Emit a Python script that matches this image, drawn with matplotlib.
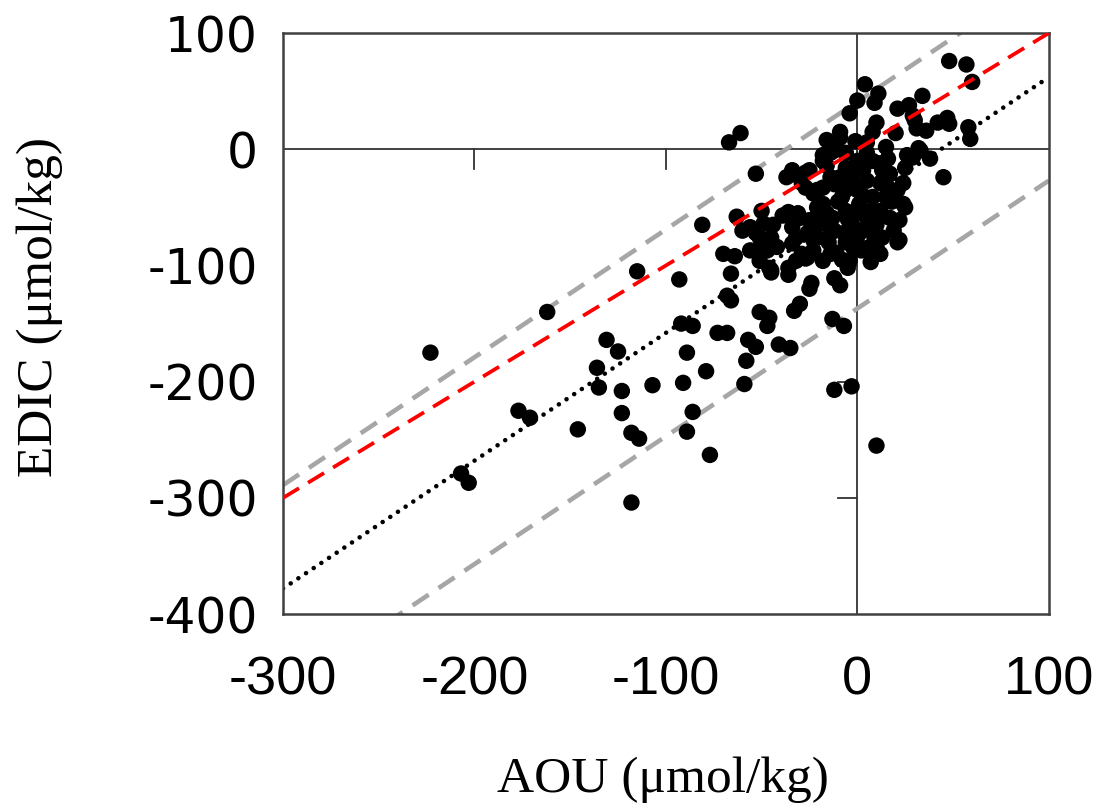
import numpy as np
import matplotlib
matplotlib.use("Agg")
import matplotlib.pyplot as plt

# AOU / EDIC samples (umol/kg)
aou = [-223, -207, -203, -177, -171, -162, -146, -136, -135, -131, -125, -123, -123, -118,
       -114, -118, -115, -107, -93, -92, -86, -89, -91, -79, -86, -89, -77, -73, -68, -68,
       -66, -66, -45, -36, -24, -25, -12, -9, -51, -47, -46, -30, -33, -57, -53, -41, -35,
       -13, -7, -58, -59, -12, -3, 10, -67, -61, -53, -81, -63, -50, -70, -64, -35, -27,
       -27, -35, -30, -60, -53, -44, -49, -52, -42, -45, -32, -26, -56, -47, -51, -46, -32,
       -29, -23, -18, -14, -21, -14, -25, -21, -16, -23, -18, -14, -18, -14, -11, -9, -16,
       -39, -31, -56, -49, -51, -45, -36, -5, -4, 12, 21, 24, 4, 11, 0, 9, -4, 10, 8, -9,
       -1, 34, 21, 27, 29, 20, 15, 31, 36, 42, 47, 48, 33, 38, 45, 29, 48, 57, 60, 58, 59,
       30, 32, -18, -12, -16, -25, -34, -37, -29, -36, -34, -26, -34, -27, -12, -18, -21,
       -9, -6, 0, 5, 12, 17, 25, 24, 21, 25, 22, 19, 22, 13, 10, 2, -6, -11, -2, 5, 12, 15,
       8, 1, -6, -8, -2, 5, 12, 13, 3, -13, -20, -23, 3, 8, 0, -6, 7, 17, -6, 5, 16, 26, 7,
       -5, 0, 5, -10, 0, 10, -15, -8, 8, -3, 15, 18, -12, 3, -2, -7, 9, -18]
edic = [-175, -279, -287, -225, -231, -140, -241, -188, -205, -164, -174, -208, -227, -244,
        -249, -304, -105, -203, -112, -150, -152, -175, -201, -191, -226, -243, -263, -158,
        -158, -126, -130, -107, -106, -108, -115, -120, -111, -117, -140, -152, -145, -133,
        -139, -164, -170, -168, -171, -146, -152, -182, -202, -207, -204, -255, 6, 14, -21,
        -65, -58, -53, -90, -92, -22, -20, -33, -57, -59, -70, -72, -65, -80, -87, -84,
        -104, -76, -93, -87, -87, -96, -102, -96, -90, -87, -96, -90, -76, -72, -61, -50,
        -55, -38, -33, -24, -10, -3, 2, 10, 8, -57, -55, -67, -64, -76, -76, -102, -102,
        -96, -90, -80, -47, 56, 48, 42, 40, 31, 23, 15, 15, 7, 46, 35, 38, 29, 14, 2, 18,
        16, 23, 27, 22, -1, -8, -24, -7, 76, 73, 58, 19, 9, 25, 1, -5, -1, -14, -18, -18,
        -24, -29, -54, -67, -72, -81, -94, -70, -47, -35, -24, -16, -10, -3, -12, -21, -16,
        -29, -35, -50, -61, -70, -78, -76, -84, -87, -80, -89, -67, -59, -53, -41, -41, -47,
        -53, -41, -29, -27, -29, -18, -18, -59, -64, -78, -70, -70, -35, -35, -53, -59, -3,
        6, -8, -5, -97,
        -60, -75, -85, -45, -55, -65, -80, -95, -10, -20, -30, -45, -30, -40, -85, -72, -78, -55]

# fitted lines: y = slope * x + intercept
fit_slope = 1.1
fit_intercept = -48
band_intercepts = [41, -137]

x_ticks = [-300, -200, -100, 0, 100]
y_ticks = [-400, -300, -200, -100, 0, 100]

fig = plt.figure(figsize=(10.97, 8.08), dpi=100)
ax = fig.add_axes([0.258, 0.240, 0.698, 0.719])
ax.set_xlim(-300, 100)
ax.set_ylim(-400, 100)

xx = np.array([-300, 100])
# zero lines with their own small ticks
ax.axhline(0, color='#333333', lw=1.3, zorder=1)
ax.axvline(0, color='#333333', lw=1.3, zorder=1)
for t in x_ticks[1:-1]:
    ax.plot([t, t], [0, -17], color='#333333', lw=1.3, zorder=1)
for t in y_ticks[1:]:
    ax.plot([0, -10], [t, t], color='#333333', lw=1.3, zorder=1)

ax.plot(xx, fit_slope * xx + fit_intercept, color='black', lw=3.3,
        linestyle=(0, (0.01, 2.0)), dash_capstyle='round', zorder=2)
for b in band_intercepts:
    ax.plot(xx, fit_slope * xx + b, color='#a6a6a6', lw=3.3,
            linestyle=(0, (4.2, 2.6)), zorder=2)

ax.scatter(aou, edic, s=140, color='black', edgecolors='none', zorder=3)
ax.plot(xx, xx, color='#ff0000', lw=2.7, linestyle=(0, (5, 2.8)), zorder=4)

ax.set_xticks(x_ticks)
ax.set_yticks(y_ticks)
ax.set_xticklabels([str(v) for v in x_ticks], fontsize=39, family='Liberation Sans')
ax.set_yticklabels([str(v) for v in y_ticks], fontsize=35, family='DejaVu Sans')
ax.tick_params(axis='x', length=0, pad=30, colors='black')
ax.tick_params(axis='y', length=0, pad=18, colors='black')
for s in ax.spines.values():
    s.set_color('#404040')
    s.set_linewidth(1.8)

fig.text(0.604, 0.035, 'AOU (μmol/kg)', fontsize=37, family='Liberation Serif',
         ha='center', va='center')
fig.text(0.036, 0.62, 'EDIC (μmol/kg)', fontsize=37, family='Liberation Serif',
         ha='center', va='center', rotation=90)

fig.savefig('out.png', dpi=100)
